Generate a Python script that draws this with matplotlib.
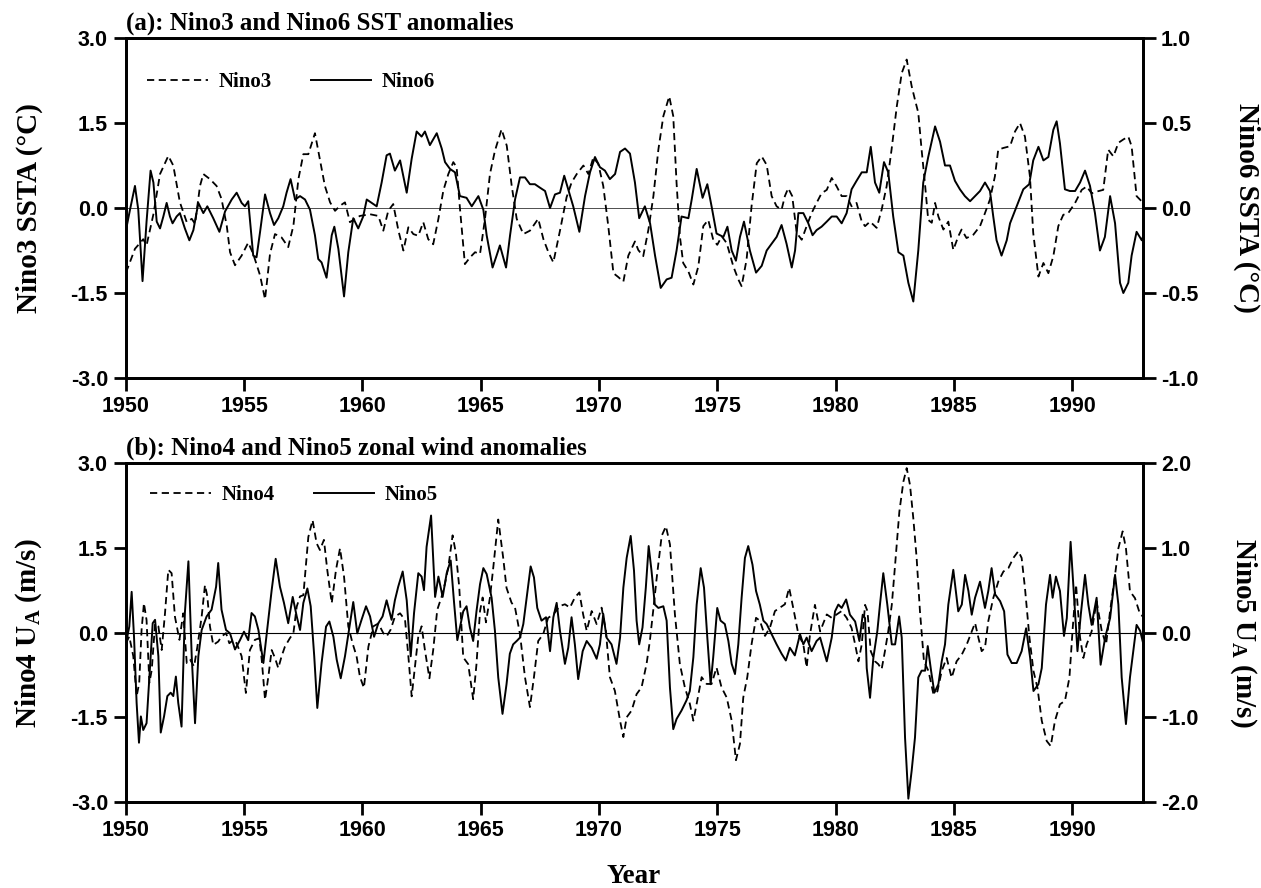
import numpy as np
import matplotlib.pyplot as plt

plt.rcParams['font.family'] = ['Liberation Sans', 'DejaVu Sans']
plt.rcParams['font.weight'] = 'bold'
SERIF = 'Liberation Serif'

# ---- data ----
# (a) Nino3 SSTA (left axis, degC)
yr_nino3 = [1950.00, 1950.38, 1950.73, 1950.87, 1951.16, 1951.44, 1951.79, 1952.00, 1952.28, 1952.57,
            1952.78, 1952.92, 1953.13, 1953.27, 1953.55, 1953.83, 1954.04, 1954.26, 1954.40, 1954.61,
            1954.89, 1955.17, 1955.38, 1955.67, 1955.88, 1956.09, 1956.30, 1956.58, 1956.86, 1957.08,
            1957.29, 1957.50, 1957.71, 1957.99, 1958.20, 1958.41, 1958.63, 1958.84, 1959.05, 1959.26,
            1959.47, 1959.68, 1959.89, 1960.32, 1960.67, 1960.88, 1961.09, 1961.30, 1961.52, 1961.73,
            1961.94, 1962.15, 1962.36, 1962.57, 1962.78, 1962.99, 1963.21, 1963.42, 1963.63, 1963.84,
            1963.98, 1964.12, 1964.33, 1964.55, 1964.76, 1964.97, 1965.18, 1965.39, 1965.60, 1965.88,
            1966.10, 1966.31, 1966.52, 1966.80, 1967.08, 1967.43, 1967.65, 1967.86, 1968.07, 1968.35,
            1968.63, 1968.84, 1969.06, 1969.34, 1969.55, 1969.76, 1969.97, 1970.18, 1970.39, 1970.61,
            1970.82, 1971.03, 1971.24,
            1971.52, 1971.66, 1971.87, 1972.09, 1972.30, 1972.51, 1972.72, 1972.97, 1973.14, 1973.28,
            1973.42, 1973.56, 1973.78, 1973.99, 1974.20, 1974.41, 1974.62, 1974.83, 1975.00, 1975.19,
            1975.40, 1975.68, 1975.89, 1976.03, 1976.24, 1976.45, 1976.67, 1976.88, 1977.09, 1977.30,
            1977.51, 1977.72, 1977.86, 1978.00, 1978.17, 1978.36, 1978.57, 1978.78, 1978.99, 1979.20,
            1979.41, 1979.63, 1979.84, 1980.05, 1980.26, 1980.47, 1980.68, 1980.89, 1981.11, 1981.25,
            1981.46, 1981.74, 1981.95, 1982.16, 1982.37, 1982.59, 1982.80, 1983.01, 1983.22, 1983.36,
            1983.50, 1983.64, 1983.78, 1983.92, 1984.07, 1984.21, 1984.35, 1984.56, 1984.77, 1984.98,
            1985.19, 1985.33, 1985.54, 1985.83, 1986.11, 1986.32, 1986.53, 1986.74, 1986.88, 1987.10,
            1987.38, 1987.59, 1987.80, 1988.01, 1988.22, 1988.36, 1988.58, 1988.79, 1989.00, 1989.21,
            1989.42, 1989.63, 1989.84, 1990.13, 1990.41, 1990.62, 1990.83, 1991.04, 1991.32, 1991.53,
            1991.75, 1991.96, 1992.17, 1992.38, 1992.52, 1992.73, 1993.01]
nino3 = [-1.14, -0.72, -0.55, -0.66, -0.11, 0.60, 0.92, 0.75, 0.10, -0.25,
         -0.19, -0.28, 0.39, 0.60, 0.51, 0.39, 0.16, -0.31, -0.78, -1.01,
         -0.84, -0.61, -0.81, -1.19, -1.61, -0.81, -0.46, -0.52, -0.69, -0.31,
         0.51, 0.95, 0.95, 1.32, 0.86, 0.39, 0.10, -0.05, 0.04, 0.10,
         -0.25, -0.19, -0.14, -0.11, -0.14, -0.40, -0.05, 0.07, -0.40, -0.75,
         -0.34, -0.46, -0.49, -0.25, -0.55, -0.64, -0.19, 0.31, 0.60, 0.81,
         0.72, 0.00, -0.99, -0.87, -0.78, -0.81, -0.19, 0.60, 1.01, 1.39,
         1.10, 0.39, -0.19, -0.46, -0.40, -0.19, -0.55, -0.78, -0.96, -0.40,
         0.19, 0.45, 0.60, 0.75, 0.60, 0.89, 0.78, 0.39, -0.31, -1.15,
         -1.22, -1.30, -0.84,
         -0.59, -0.74, -0.85, -0.38, 0.21, 1.03, 1.62, 1.97, 1.62, 0.44,
         -0.50, -0.97, -1.12, -1.35, -1.03, -0.32, -0.21, -0.56, -0.65, -0.50,
         -0.62, -1.03, -1.26, -1.38, -0.91, 0.03, 0.79, 0.91, 0.76, 0.21,
         0.03, -0.03, 0.21, 0.35, 0.21, -0.44, -0.56, -0.32, -0.09, 0.09,
         0.26, 0.32, 0.53, 0.38, 0.21, 0.21, 0.03, 0.09, -0.24, -0.32,
         -0.24, -0.35, -0.03, 0.38, 1.03, 1.79, 2.38, 2.62, 2.15, 1.91,
         1.68, 1.03, 0.44, -0.21, -0.26, 0.09, -0.15, -0.38, -0.24, -0.74,
         -0.50, -0.38, -0.53, -0.47, -0.32, -0.09, 0.15, 0.56, 1.03, 1.06,
         1.09, 1.35, 1.50, 1.26, 0.56, -0.44, -1.21, -0.97, -1.15, -0.85,
         -0.32, -0.12, -0.09, 0.09, 0.32, 0.38, 0.26, 0.29, 0.32, 1.03,
         0.91, 1.15, 1.21, 1.26, 1.09, 0.21, 0.09]

# (a) Nino6 SSTA (right axis, degC)
yr_nino6 = [1950.00, 1950.17, 1950.38, 1950.52, 1950.70, 1950.87, 1951.04, 1951.16, 1951.30, 1951.44,
            1951.58, 1951.72, 1951.86, 1951.97, 1952.14, 1952.28, 1952.49, 1952.68, 1952.85, 1953.06,
            1953.27, 1953.44, 1953.69, 1953.95, 1954.19, 1954.47, 1954.68, 1954.89, 1955.03, 1955.17,
            1955.38, 1955.52, 1955.67, 1955.88, 1956.09, 1956.26, 1956.44, 1956.65, 1956.79, 1956.96,
            1957.15, 1957.36, 1957.57, 1957.78, 1957.99, 1958.13, 1958.27, 1958.48, 1958.70, 1958.81,
            1958.98, 1959.22, 1959.40, 1959.61, 1959.82, 1960.03, 1960.18, 1960.39, 1960.60, 1960.81,
            1961.02, 1961.16, 1961.37, 1961.59, 1961.87, 1962.08, 1962.29, 1962.50, 1962.64, 1962.85,
            1963.14, 1963.35, 1963.49, 1963.70, 1963.91, 1964.12, 1964.40, 1964.62, 1964.90, 1965.11,
            1965.25, 1965.50, 1965.67, 1965.81, 1966.07, 1966.24, 1966.45, 1966.66, 1966.87, 1967.08,
            1967.29, 1967.50, 1967.72, 1967.93, 1968.14, 1968.35, 1968.53, 1968.70, 1968.91, 1969.17,
            1969.41, 1969.62, 1969.83, 1970.04, 1970.25, 1970.46, 1970.68, 1970.89, 1971.10,
            1971.31, 1971.52, 1971.70, 1971.94, 1972.16, 1972.37, 1972.61, 1972.86, 1973.07, 1973.28,
            1973.49, 1973.78, 1973.92, 1974.13, 1974.38, 1974.58, 1974.76, 1974.97, 1975.26, 1975.43,
            1975.61, 1975.79, 1975.96, 1976.13, 1976.38, 1976.64, 1976.88, 1977.09, 1977.30, 1977.51,
            1977.72, 1977.93, 1978.15, 1978.29, 1978.43, 1978.64, 1978.85, 1979.03, 1979.20, 1979.41,
            1979.63, 1979.84, 1980.05, 1980.26, 1980.47, 1980.68, 1980.89, 1981.11, 1981.32, 1981.49,
            1981.67, 1981.85, 1982.05, 1982.23, 1982.44, 1982.66, 1982.87, 1983.08, 1983.29, 1983.50,
            1983.71, 1983.92, 1984.21, 1984.42, 1984.63, 1984.84, 1985.05, 1985.26, 1985.47, 1985.69,
            1985.90, 1986.11, 1986.32, 1986.53, 1986.67, 1986.81, 1987.02, 1987.24, 1987.38, 1987.66,
            1987.94, 1988.19, 1988.36, 1988.58, 1988.79, 1989.00, 1989.21, 1989.35, 1989.49, 1989.70,
            1989.91, 1990.13, 1990.34, 1990.55, 1990.76, 1990.97, 1991.18, 1991.39, 1991.61, 1991.82,
            1992.03, 1992.17, 1992.38, 1992.52, 1992.73, 1992.95, 1993.09]
nino6 = [-0.13, -0.01, 0.13, -0.01, -0.43, -0.08, 0.22, 0.15, -0.08, -0.12,
         -0.05, 0.03, -0.05, -0.09, -0.05, -0.03, -0.12, -0.19, -0.13, 0.03,
         -0.03, 0.01, -0.06, -0.14, -0.02, 0.05, 0.09, 0.03, 0.01, 0.04,
         -0.28, -0.29, -0.14, 0.08, -0.03, -0.10, -0.06, 0.01, 0.09, 0.17,
         0.05, 0.07, 0.05, -0.01, -0.16, -0.30, -0.32, -0.41, -0.16, -0.11,
         -0.24, -0.52, -0.26, -0.06, -0.12, -0.05, 0.05, 0.03, 0.01, 0.15,
         0.31, 0.32, 0.22, 0.28, 0.09, 0.29, 0.45, 0.42, 0.45, 0.37,
         0.44, 0.35, 0.27, 0.23, 0.21, 0.07, 0.06, 0.01, 0.07, -0.01,
         -0.16, -0.35, -0.28, -0.22, -0.35, -0.16, 0.05, 0.18, 0.18, 0.14,
         0.14, 0.12, 0.10, 0.00, 0.08, 0.09, 0.19, 0.11, 0.01, -0.14,
         0.07, 0.21, 0.30, 0.24, 0.22, 0.17, 0.20, 0.33, 0.35,
         0.32, 0.15, -0.06, 0.01, -0.09, -0.28, -0.47, -0.42, -0.41, -0.25,
         -0.05, -0.06, 0.05, 0.23, 0.06, 0.14, 0.01, -0.15, -0.17, -0.11,
         -0.25, -0.31, -0.17, -0.08, -0.25, -0.38, -0.34, -0.25, -0.21, -0.17,
         -0.10, -0.21, -0.35, -0.25, -0.03, -0.03, -0.09, -0.16, -0.13, -0.11,
         -0.08, -0.05, -0.05, -0.09, -0.03, 0.11, 0.16, 0.21, 0.21, 0.36,
         0.15, 0.09, 0.27, 0.21, -0.05, -0.26, -0.28, -0.44, -0.55, -0.25,
         0.15, 0.30, 0.48, 0.39, 0.25, 0.25, 0.16, 0.11, 0.07, 0.04,
         0.07, 0.10, 0.15, 0.10, -0.05, -0.19, -0.28, -0.19, -0.09, 0.01,
         0.11, 0.14, 0.28, 0.36, 0.28, 0.30, 0.46, 0.51, 0.38, 0.11,
         0.10, 0.10, 0.15, 0.22, 0.13, -0.03, -0.25, -0.17, 0.07, -0.09,
         -0.44, -0.50, -0.44, -0.28, -0.14, -0.19, -0.13]

# (b) Nino4 zonal wind anomaly (left axis, m/s)
yr_nino4 = [1950.00, 1950.14, 1950.31, 1950.45, 1950.56, 1950.66, 1950.76, 1950.87, 1950.99, 1951.09,
            1951.23, 1951.37, 1951.51, 1951.65, 1951.79, 1951.93, 1952.07, 1952.26, 1952.42, 1952.57,
            1952.71, 1952.88, 1953.02, 1953.20, 1953.34, 1953.44, 1953.55, 1953.69, 1953.90, 1954.04,
            1954.23, 1954.37, 1954.54, 1954.68, 1954.89, 1955.07, 1955.24, 1955.45, 1955.64, 1955.74,
            1955.88, 1956.02, 1956.16, 1956.30, 1956.44, 1956.58, 1956.72, 1956.93, 1957.08, 1957.22,
            1957.36, 1957.50, 1957.71, 1957.89, 1958.06, 1958.20, 1958.37, 1958.51, 1958.70, 1958.88,
            1959.05, 1959.22, 1959.40, 1959.58, 1959.75, 1959.89, 1960.06, 1960.25, 1960.46, 1960.67,
            1960.88, 1961.02, 1961.19, 1961.37, 1961.59, 1961.80, 1961.94, 1962.08, 1962.22, 1962.36,
            1962.50, 1962.64, 1962.83, 1962.99, 1963.16, 1963.35, 1963.49, 1963.63, 1963.81, 1963.95,
            1964.09,
            1964.26, 1964.47, 1964.68, 1964.82, 1964.97, 1965.08, 1965.22, 1965.39, 1965.53, 1965.74,
            1965.95, 1966.09, 1966.30, 1966.45, 1966.66, 1966.87, 1967.08, 1967.25, 1967.43, 1967.64,
            1967.85, 1968.07, 1968.35, 1968.56, 1968.77, 1968.98, 1969.17, 1969.33, 1969.48, 1969.69,
            1969.90, 1970.11, 1970.29, 1970.46, 1970.67, 1970.89, 1971.03, 1971.17, 1971.38, 1971.59,
            1971.80, 1972.01, 1972.15, 1972.29, 1972.44, 1972.65, 1972.83, 1973.00, 1973.21, 1973.42,
            1973.63, 1973.84, 1973.99, 1974.13, 1974.34, 1974.55, 1974.76, 1974.97, 1975.18, 1975.40,
            1975.61, 1975.79, 1975.96, 1976.10, 1976.27, 1976.45, 1976.64, 1976.80, 1977.02, 1977.23,
            1977.44, 1977.65, 1977.86, 1978.04, 1978.21, 1978.43,
            1978.50, 1978.64, 1978.78, 1978.92, 1979.13, 1979.35, 1979.63, 1979.84, 1980.05, 1980.26,
            1980.47, 1980.68, 1980.83, 1980.97, 1981.11, 1981.25, 1981.35, 1981.49, 1981.67, 1981.81,
            1981.95, 1982.09, 1982.23, 1982.38, 1982.52, 1982.70, 1982.87, 1983.01, 1983.15, 1983.29,
            1983.43, 1983.57, 1983.74, 1983.93, 1984.14, 1984.31, 1984.49, 1984.70, 1984.91, 1985.12,
            1985.34, 1985.55, 1985.76, 1985.90, 1986.04, 1986.18, 1986.32, 1986.46, 1986.67, 1986.89,
            1987.10, 1987.31, 1987.52, 1987.73, 1987.87, 1988.01, 1988.20, 1988.37, 1988.54, 1988.72,
            1988.93, 1989.10, 1989.28, 1989.49, 1989.70, 1989.89, 1990.03, 1990.17, 1990.34, 1990.48,
            1990.62, 1990.83, 1991.04, 1991.26, 1991.44, 1991.61, 1991.82, 1991.96, 1992.14, 1992.28,
            1992.45, 1992.66, 1992.88, 1993.09]
nino4 = [-0.19, -0.07, -0.42, -1.13, -0.89, 0.05, 0.52, 0.22, -0.89, -0.66,
         0.16, 0.11, -0.31, 0.34, 1.11, 1.05, 0.28, -0.13, 0.34, -0.54,
         -0.48, -0.60, -0.25, 0.28, 0.84, 0.64, 0.11, -0.22, -0.16, -0.07,
         -0.01, -0.19, -0.13, -0.19, -0.42, -1.07, -0.31, -0.13, -0.10, -0.48,
         -1.19, -0.78, -0.31, -0.45, -0.63, -0.42, -0.25, -0.10, -0.01, 0.46,
         0.64, 0.66, 1.69, 1.99, 1.58, 1.46, 1.64, 1.11, 0.52, 1.11,
         1.49, 0.99, 0.11, -0.19, -0.42, -0.78, -0.98, -0.25, 0.11, 0.16,
         -0.01, -0.07, 0.05, 0.28, 0.34, 0.22, -0.42, -1.13, -0.60, -0.07,
         0.11, -0.31, -0.81, -0.31, 0.40, 0.64, 0.87, 1.16, 1.72, 1.40,
         0.81,
         -0.44, -0.56, -1.18, -0.56, 0.38, 0.62, 0.18, 0.62, 1.15, 2.00,
         1.32, 0.79, 0.53, 0.44, -0.03, -0.79, -1.32, -0.79, -0.15, -0.03,
         0.26, 0.32, 0.47, 0.50, 0.44, 0.62, 0.71, 0.32, 0.03, 0.38,
         0.15, 0.44, 0.03, -0.79, -1.03, -1.56, -1.85, -1.50, -1.38, -1.09,
         -0.97, -0.56, -0.15, 0.38, 0.97, 1.71, 1.88, 1.56, 0.32, -0.56,
         -0.97, -1.26, -1.56, -1.26, -0.79, -0.91, -0.91, -0.62, -0.97, -1.15,
         -1.56, -2.26, -1.97, -1.15, -0.79, -0.21, 0.26, 0.21, -0.06, 0.09,
         0.38, 0.44, 0.50, 0.79, 0.44, -0.03,
         -0.09, -0.21, -0.62, -0.04, 0.49, 0.02, 0.32, 0.26, 0.32, 0.38,
         0.26, 0.08, -0.21, -0.51, -0.21, 0.49, 0.38, -0.33, -0.51, -0.56,
         -0.65, -0.33, 0.02, 0.49, 1.20, 2.14, 2.67, 2.91, 2.61, 2.02,
         1.32, 0.38, -0.51, -0.68, -1.09, -1.04, -0.68, -0.45, -0.80, -0.51,
         -0.39, -0.21, 0.02, 0.17, -0.09, -0.33, -0.27, 0.20, 0.61, 0.91,
         1.08, 1.14, 1.32, 1.44, 1.32, 0.79, -0.09, -0.68, -0.98, -1.56,
         -1.92, -2.01, -1.56, -1.27, -1.21, -0.80, 0.08, 0.85, -0.09, -0.45,
         -0.21, 0.02, 0.55, 0.02, -0.21, 0.38, 1.02, 1.49, 1.79, 1.49,
         0.73, 0.61, 0.32, 0.26]

# (b) Nino5 zonal wind anomaly (right axis, m/s)
yr_nino5 = [1950.00, 1950.14, 1950.24, 1950.34, 1950.45, 1950.55, 1950.63, 1950.73, 1950.87, 1950.99,
            1951.13, 1951.23, 1951.37, 1951.47, 1951.61, 1951.75, 1951.89, 1952.00, 1952.11, 1952.21,
            1952.35, 1952.49, 1952.64, 1952.78, 1952.92, 1953.06, 1953.20, 1953.41, 1953.62, 1953.81,
            1953.90, 1954.04, 1954.23, 1954.40, 1954.61, 1954.82, 1954.99, 1955.17, 1955.31, 1955.45,
            1955.60, 1955.81, 1956.02, 1956.16, 1956.33, 1956.51, 1956.68, 1956.86, 1957.05, 1957.22,
            1957.36, 1957.50, 1957.67, 1957.81, 1957.96, 1958.09, 1958.27, 1958.46, 1958.60, 1958.77,
            1958.91, 1959.08, 1959.26, 1959.44, 1959.61, 1959.78, 1959.96, 1960.15, 1960.32, 1960.49,
            1960.67, 1960.85, 1961.02, 1961.23, 1961.37, 1961.51, 1961.70, 1961.87, 1962.04, 1962.18,
            1962.36, 1962.50, 1962.60, 1962.71, 1962.90, 1963.07, 1963.21, 1963.39, 1963.56, 1963.73,
            1963.87, 1964.01,
            1964.26, 1964.40, 1964.54, 1964.68, 1964.82, 1964.97, 1965.11, 1965.25, 1965.46, 1965.60,
            1965.74, 1965.92, 1966.09, 1966.23, 1966.37, 1966.52, 1966.66, 1966.80, 1966.94, 1967.11,
            1967.25, 1967.39, 1967.57, 1967.76, 1967.93, 1968.07, 1968.21, 1968.35, 1968.56, 1968.70,
            1968.84, 1968.98, 1969.12, 1969.31, 1969.48, 1969.69, 1969.90, 1970.04, 1970.18, 1970.32,
            1970.53, 1970.74, 1970.89, 1971.03, 1971.17, 1971.34, 1971.48, 1971.59, 1971.70, 1971.84,
            1971.98, 1972.10, 1972.22, 1972.36, 1972.51, 1972.72, 1972.86, 1973.00, 1973.14, 1973.28,
            1973.49, 1973.70, 1973.84, 1973.99, 1974.13, 1974.30, 1974.44, 1974.58, 1974.72, 1974.83,
            1975.00, 1975.14, 1975.32, 1975.47, 1975.61, 1975.75, 1975.89, 1976.03, 1976.17, 1976.31,
            1976.49, 1976.64, 1976.80, 1976.95, 1977.09, 1977.30, 1977.51, 1977.72, 1977.90, 1978.07,
            1978.28, 1978.50,
            1978.64, 1978.78, 1978.99, 1979.20, 1979.35, 1979.63, 1979.84, 1979.98, 1980.12, 1980.26,
            1980.45, 1980.61, 1980.83, 1981.01, 1981.15, 1981.25, 1981.32, 1981.46, 1981.60, 1981.77,
            1981.88, 1982.02, 1982.19, 1982.38, 1982.52, 1982.69, 1982.80, 1982.94, 1983.08, 1983.22,
            1983.36, 1983.50, 1983.64, 1983.79, 1983.90, 1984.04, 1984.18, 1984.35, 1984.49, 1984.63,
            1984.77, 1984.98, 1985.19, 1985.34, 1985.48, 1985.62, 1985.76, 1985.90, 1986.11, 1986.32,
            1986.46, 1986.60, 1986.75, 1986.96, 1987.13, 1987.27, 1987.45, 1987.66, 1987.87, 1988.06,
            1988.23, 1988.37, 1988.58, 1988.72, 1988.90, 1989.07, 1989.18, 1989.32, 1989.49, 1989.66,
            1989.78, 1989.94, 1990.09, 1990.23, 1990.37, 1990.55, 1990.69, 1990.83, 1991.04, 1991.21,
            1991.40, 1991.61, 1991.82, 1991.96, 1992.10, 1992.28, 1992.45, 1992.59, 1992.73, 1992.88,
            1993.02]
nino5 = [-0.13, 0.07, 0.48, -0.05, -0.83, -1.30, -0.99, -1.15, -1.07, -0.52,
         0.11, 0.15, -0.28, -1.18, -0.99, -0.75, -0.71, -0.75, -0.52, -0.83,
         -1.11, 0.23, 0.84, -0.28, -1.07, -0.28, 0.03, 0.19, 0.27, 0.54,
         0.82, 0.27, 0.03, -0.01, -0.20, -0.09, 0.01, -0.09, 0.23, 0.19,
         0.03, -0.36, 0.15, 0.50, 0.87, 0.54, 0.35, 0.11, 0.42, 0.19,
         0.03, 0.35, 0.52, 0.31, -0.28, -0.89, -0.36, 0.07, 0.13, -0.05,
         -0.32, -0.54, -0.28, 0.05, 0.36, -0.01, 0.15, 0.31, 0.19, -0.05,
         0.11, 0.19, 0.38, 0.15, 0.38, 0.54, 0.72, 0.38, -0.28, 0.23,
         0.70, 0.66, 0.50, 1.01, 1.38, 0.42, 0.66, 0.42, 0.70, 0.85,
         0.36, -0.09,
         0.25, 0.31, 0.06, -0.10, 0.25, 0.57, 0.76, 0.69, 0.41, 0.02,
         -0.53, -0.96, -0.61, -0.25, -0.14, -0.10, -0.06, 0.10, 0.41, 0.78,
         0.65, 0.29, 0.14, 0.18, -0.22, 0.18, 0.35, 0.02, -0.37, -0.18,
         0.18, -0.14, -0.55, -0.22, -0.10, -0.18, -0.31, -0.14, 0.22, -0.06,
         -0.14, -0.37, -0.06, 0.53, 0.88, 1.14, 0.73, 0.14, -0.14, 0.06,
         0.53, 1.02, 0.73, 0.33, 0.29, 0.31, 0.14, -0.65, -1.14, -1.02,
         -0.92, -0.80, -0.69, -0.29, 0.33, 0.76, 0.53, -0.06, -0.61, -0.29,
         0.29, 0.14, 0.10, -0.10, -0.37, -0.49, -0.14, 0.41, 0.88, 1.02,
         0.80, 0.49, 0.33, 0.14, 0.10, -0.02, -0.14, -0.25, -0.33, -0.18,
         -0.27, -0.02,
         -0.14, -0.06, -0.22, -0.10, -0.06, -0.34, -0.06, 0.25, 0.33, 0.29,
         0.39, 0.21, 0.13, -0.10, 0.21, 0.17, -0.42, -0.77, -0.30, 0.02,
         0.33, 0.70, 0.33, -0.14, -0.14, 0.19, -0.06, -1.24, -1.96, -1.63,
         -1.24, -0.53, -0.45, -0.45, -0.16, -0.45, -0.71, -0.61, -0.34, -0.14,
         0.33, 0.74, 0.25, 0.33, 0.68, 0.49, 0.21, 0.41, 0.60, 0.29,
         0.49, 0.76, 0.45, 0.37, 0.25, -0.26, -0.36, -0.36, -0.22, 0.05,
         -0.30, -0.69, -0.61, -0.42, 0.33, 0.68, 0.41, 0.66, 0.49, -0.04,
         0.17, 1.07, 0.41, -0.22, 0.21, 0.68, 0.33, 0.09, 0.41, -0.38,
         -0.06, 0.17, 0.68, 0.33, -0.53, -1.08, -0.53, -0.22, 0.09, 0.02,
         -0.14]

year_ticks = [1950, 1955, 1960, 1965, 1970, 1975, 1980, 1985, 1990]
left_ticks = [-3.0, -1.5, 0.0, 1.5, 3.0]
left_labels = ['-3.0', '-1.5', '0.0', '1.5', '3.0']
right_ticks_a = [-1.0, -0.5, 0.0, 0.5, 1.0]
right_labels_a = ['-1.0', '-0.5', '0.0', '0.5', '1.0']
right_ticks_b = [-2.0, -1.0, 0.0, 1.0, 2.0]
right_labels_b = ['-2.0', '-1.0', '0.0', '1.0', '2.0']


def style_axes(ax):
    for sp in ax.spines.values():
        sp.set_linewidth(2)
    ax.tick_params(direction='out', length=9, width=2, labelsize=15.5, pad=4)


fig = plt.figure(figsize=(12.61, 8.88), dpi=100)
ax_a = fig.add_axes([0.0999, 0.5743, 0.8065, 0.3829])
ax_b = fig.add_axes([0.0999, 0.0968, 0.8065, 0.3818])

leg_font = {'family': SERIF, 'weight': 'bold', 'size': 15}

# ---- panel (a) ----
ax_a.axhline(0, color='0.3', lw=0.7)
l3, = ax_a.plot(yr_nino3, nino3, color='k', lw=1.3, dashes=(4, 2.5))
ax_a.set_xlim(1950, 1993)
ax_a.set_ylim(-3, 3)
ax_a.set_xticks(year_ticks)
ax_a.set_xticklabels([str(y) for y in year_ticks])
ax_a.set_yticks(left_ticks)
ax_a.set_yticklabels(left_labels)
style_axes(ax_a)

ax_a2 = ax_a.twinx()
l6, = ax_a2.plot(yr_nino6, nino6, color='k', lw=1.4)
ax_a2.set_ylim(-1, 1)
ax_a2.set_yticks(right_ticks_a)
ax_a2.set_yticklabels(right_labels_a)
style_axes(ax_a2)
ax_a2.legend([l3, l6], ['Nino3', 'Nino6'], loc='center left', bbox_to_anchor=(0.021, 0.871),
             ncol=2, frameon=False, borderaxespad=0, borderpad=0, handlelength=2.9,
             handletextpad=0.5, columnspacing=1.9, prop=leg_font)

# ---- panel (b) ----
ax_b.axhline(0, color='k', lw=0.8)
l4, = ax_b.plot(yr_nino4, nino4, color='k', lw=1.3, dashes=(4, 2.5))
ax_b.set_xlim(1950, 1993)
ax_b.set_ylim(-3, 3)
ax_b.set_xticks(year_ticks)
ax_b.set_xticklabels([str(y) for y in year_ticks])
ax_b.set_yticks(left_ticks)
ax_b.set_yticklabels(left_labels)
style_axes(ax_b)

ax_b2 = ax_b.twinx()
l5, = ax_b2.plot(yr_nino5, nino5, color='k', lw=1.4)
ax_b2.set_ylim(-2, 2)
ax_b2.set_yticks(right_ticks_b)
ax_b2.set_yticklabels(right_labels_b)
style_axes(ax_b2)
ax_b2.legend([l4, l5], ['Nino4', 'Nino5'], loc='center left', bbox_to_anchor=(0.024, 0.906),
             ncol=2, frameon=False, borderaxespad=0, borderpad=0, handlelength=2.9,
             handletextpad=0.5, columnspacing=1.9, prop=leg_font)

# ---- titles and axis labels ----
tkw = dict(family=SERIF, weight='bold')
fig.text(0.0999, 1 - 23 / 888, '(a): Nino3 and Nino6 SST anomalies', size=18, va='center', **tkw)
fig.text(0.0999, 1 - 448 / 888, '(b): Nino4 and Nino5 zonal wind anomalies', size=18, va='center', **tkw)

fig.text(29 / 1261, 1 - 208 / 888, 'Nino3 SSTA (°C)', size=21, rotation=90, ha='center', va='center', **tkw)
fig.text(1247 / 1261, 1 - 208 / 888, 'Nino6 SSTA (°C)', size=21, rotation=270, ha='center', va='center', **tkw)
fig.text(29 / 1261, 1 - 633 / 888, r'Nino4 U$_\mathregular{A}$ (m/s)', size=21, rotation=90,
         ha='center', va='center', **tkw)
fig.text(1243 / 1261, 1 - 633 / 888, r'Nino5 U$_\mathregular{A}$ (m/s)', size=21, rotation=270,
         ha='center', va='center', **tkw)
fig.text(634 / 1261, 1 - 876 / 888, 'Year', size=19.5, ha='center', va='center', **tkw)

fig.savefig('out.png', dpi=100)
